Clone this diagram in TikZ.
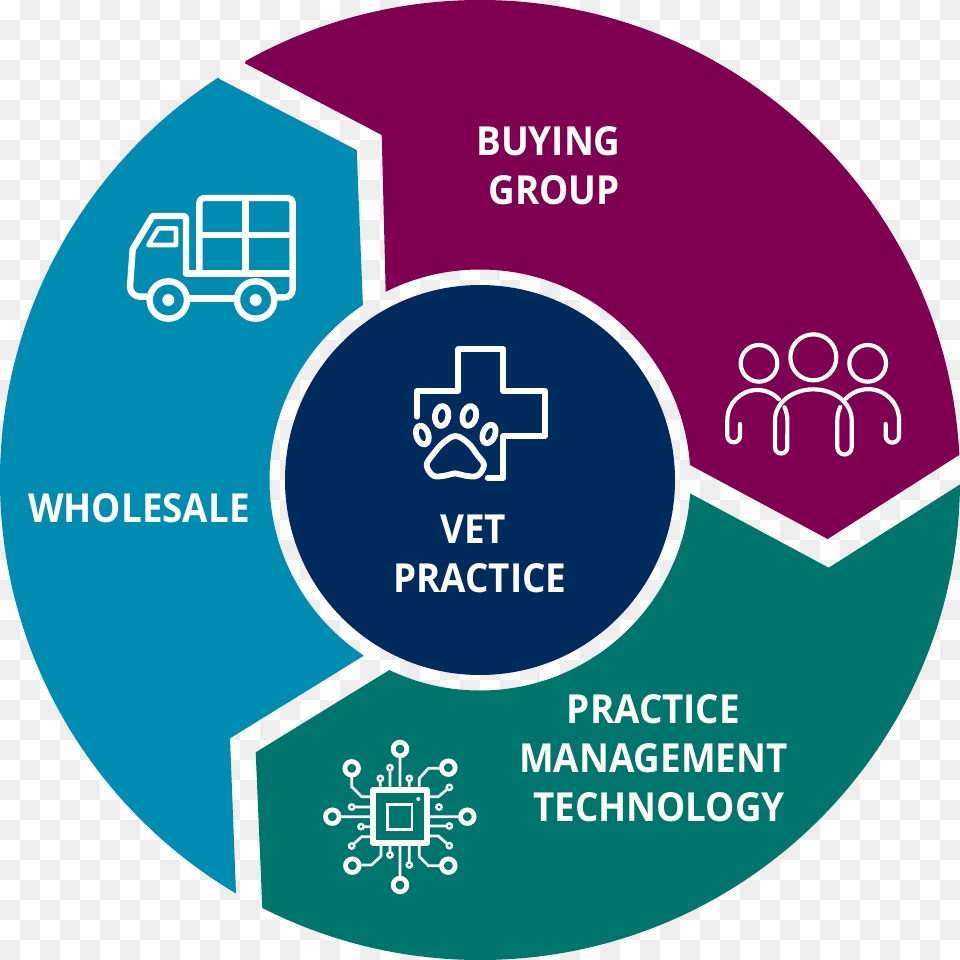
\documentclass[tikz,border=0pt]{standalone}
\usepackage{fontspec}
\setmainfont[FakeStretch=0.92]{Open Sans}
\begin{document}
\begin{tikzpicture}[x=1pt,y=1pt,yscale=-1,
  icon/.style={draw=white,line width=#1,line cap=round,line join=round},
  icon/.default=6.4pt,
  label/.style={text=white,align=center,inner sep=0pt,font=\fontsize{40}{49}\selectfont\bfseries},
  pin/.style={draw=white,line width=2.7pt,line join=round},
  zoomed/.style={shift={#1},scale=0.33333}]
\definecolor{plum}{HTML}{7F0050}
\definecolor{lagoon}{HTML}{008BB0}
\definecolor{pine}{HTML}{00756B}
\definecolor{navy}{HTML}{002B5C}
\definecolor{chk}{HTML}{EEEEEE}
\useasboundingbox (0,0) rectangle (960,960);
\coordinate (c) at (480,480);

% checker backdrop
\fill[white] (0,0) rectangle (960,960);
\foreach \i in {0,...,47}{\foreach \j in {0,...,47}{
  \pgfmathparse{int(mod(\i+\j,2))}
  \ifnum\pgfmathresult=1
    \fill[chk] (20*\i,20*\j) rectangle ++(20,20);
  \fi}}

% three outer segments, kept inside the annulus
\begin{scope}[even odd rule]
  \clip (c) circle (480pt) (c) circle (210.5pt);
  \fill[plum] (245,63.3) -- (300,-100) -- (1100,-100) -- (1100,400) -- (958,455.7)
     -- (827.7,539) -- (690,465) -- (c) -- (385.7,291.7) -- (381.7,135) -- cycle;
  \fill[lagoon] (219.3,79) -- (100,-100) -- (-100,-100) -- (-100,1060) -- (150,1060)
     -- (236,893.3) -- (230,738.3) -- (363.3,656) -- (c) -- (363.5,320) -- (356.7,150) -- cycle;
  \fill[pine] (262.3,907.7) -- (200,1060) -- (1100,1060) -- (1100,395) -- (958,485.7)
     -- (828.7,567.7) -- (690,493.3) -- (c) -- (388.3,670.7) -- (255.7,752.3) -- cycle;
\end{scope}
\fill[navy] (c) circle (195pt);

% labels
\node[label,anchor=center] (buying) at (554,166) {\hspace*{-11pt}BUYING\\GROUP};
\node[label,anchor=center] (wholesale) at (139,508) {WHOLESALE};
\node[label,anchor=center] (vet) at (480,554) {\hspace*{-14pt}VET\\PRACTICE};
\node[label,anchor=center] (tech) at (653.5,758) {PRACTICE\\MANAGEMENT\\\hspace*{11pt}TECHNOLOGY};

% truck
\begin{scope}[zoomed={(100,170)}]
  \draw[icon] (298,310) -- (298,98) arc[start angle=180,end angle=270,radius=14pt] -- (564,84)
    arc[start angle=270,end angle=360,radius=14pt] -- (578,358)
    arc[start angle=0,end angle=90,radius=24pt] -- (535,382);
  \draw[icon] (298,195) -- (578,195) (436,84) -- (436,310) (258,310) -- (578,310);
  \draw[icon] (258,310) -- (258,146) arc[start angle=0,end angle=-90,radius=8pt] -- (158,138)
    -- (98,238) -- (90,350) arc[start angle=180,end angle=90,radius=30pt] -- (140,380);
  \draw[icon] (272,385) -- (402,385);
  \draw[icon=4.6pt] (175,175) -- (228,175) -- (228,225) -- (145,225) -- cycle;
  \draw[icon] (205,390) circle (56pt);
  \draw[icon] (467,390) circle (56pt);
  \fill[white] (205,390) circle (18pt) (467,390) circle (18pt);
\end{scope}

% three figures
\begin{scope}[zoomed={(700,320)}]
  \draw[icon=4.2pt] (177,130) circle (55pt) (340,112) circle (69pt) (503,130) circle (55pt);
  \draw[icon=4.2pt] (120,312) -- (120,348) arc[start angle=0,end angle=180,radius=19pt] -- (82,300)
    arc[start angle=180,end angle=316,radius=90pt];
  \draw[icon=4.2pt] (253.6,262) arc[start angle=-25,end angle=0,radius=90pt] -- (262,382)
    arc[start angle=0,end angle=180,radius=18.5pt] -- (225,300)
    arc[start angle=180,end angle=360,x radius=115pt,y radius=92pt] -- (455,382)
    arc[start angle=0,end angle=180,radius=21.5pt] -- (412,300)
    arc[start angle=180,end angle=205,radius=92.5pt];
  \draw[icon=4.2pt] (557,312) -- (557,348) arc[start angle=180,end angle=0,radius=20pt] -- (597,300)
    arc[start angle=0,end angle=-136,radius=92.5pt];
\end{scope}

% cross with paw
\begin{scope}[zoomed={(390,330)}]
  \draw[icon=5.8pt] (80,260) -- (80,183) -- (205,183) -- (205,58) -- (340,58) -- (340,183)
    -- (465,183) -- (465,318) -- (340,318) -- (340,443) -- (293,443);
  \draw[icon=5.8pt] (97,315) ellipse[x radius=18pt,y radius=29pt,rotate=-18];
  \draw[icon=5.8pt] (155,258) ellipse[x radius=20pt,y radius=30pt,rotate=8];
  \draw[icon=5.8pt] (238,258) ellipse[x radius=20pt,y radius=30pt,rotate=14];
  \draw[icon=5.8pt] (297,312) ellipse[x radius=18pt,y radius=29pt,rotate=22];
  \draw[icon=5.8pt] plot[smooth cycle,tension=0.6] coordinates {(197,318) (235,340) (262,375) (282,405)
    (262,437) (225,437) (195,430) (165,437) (130,437) (110,405) (130,372) (160,338)};
\end{scope}

% processor with traces
\begin{scope}[zoomed={(310,730)}]
  \draw[white,line width=6pt,line join=round] (190,180) rectangle (351,339);
  \draw[white,line width=2.8pt] (232,224) rectangle (306,298);
  \fill[white] (325,207) circle (6pt);
  \draw[pin] (270,84) -- (270,170)
    (125,140) -- (125,170) -- (155,200) -- (181,200)
    (94,260) -- (181,260)
    (154,405) -- (185,405) -- (213,378) -- (213,348)
    (270,348) -- (270,438)
    (390,407) -- (355,407) -- (328,380) -- (328,348)
    (360,260) -- (445,260)
    (390,115) -- (355,115) -- (328,145) -- (328,170)
    (240,122) -- (240,170)
    (211,154) -- (211,170)
    (298,154) -- (298,170)
    (134,231) -- (181,231)
    (162,290) -- (181,290)
    (132,341) -- (155,320) -- (181,320)
    (240,366) -- (240,348)
    (298,396) -- (298,348)
    (410,179) -- (385,200) -- (360,200)
    (409,288) -- (360,288)
    (410,340) -- (385,318) -- (360,318);
  \foreach \p in {(270,57),(125,115),(67,260),(127,407),(270,465),(415,407),(472,260),(415,113)}
    \draw[white,line width=4.7pt] \p circle (20.5pt);
  \foreach \p in {(240,113),(211,145),(298,145),(125,231),(153,290),(125,348),(240,375),(298,405),(418,172),(387,231),(418,288),(418,347)}
    \draw[white,line width=2.4pt] \p circle (8pt);
\end{scope}
\end{tikzpicture}
\end{document}
